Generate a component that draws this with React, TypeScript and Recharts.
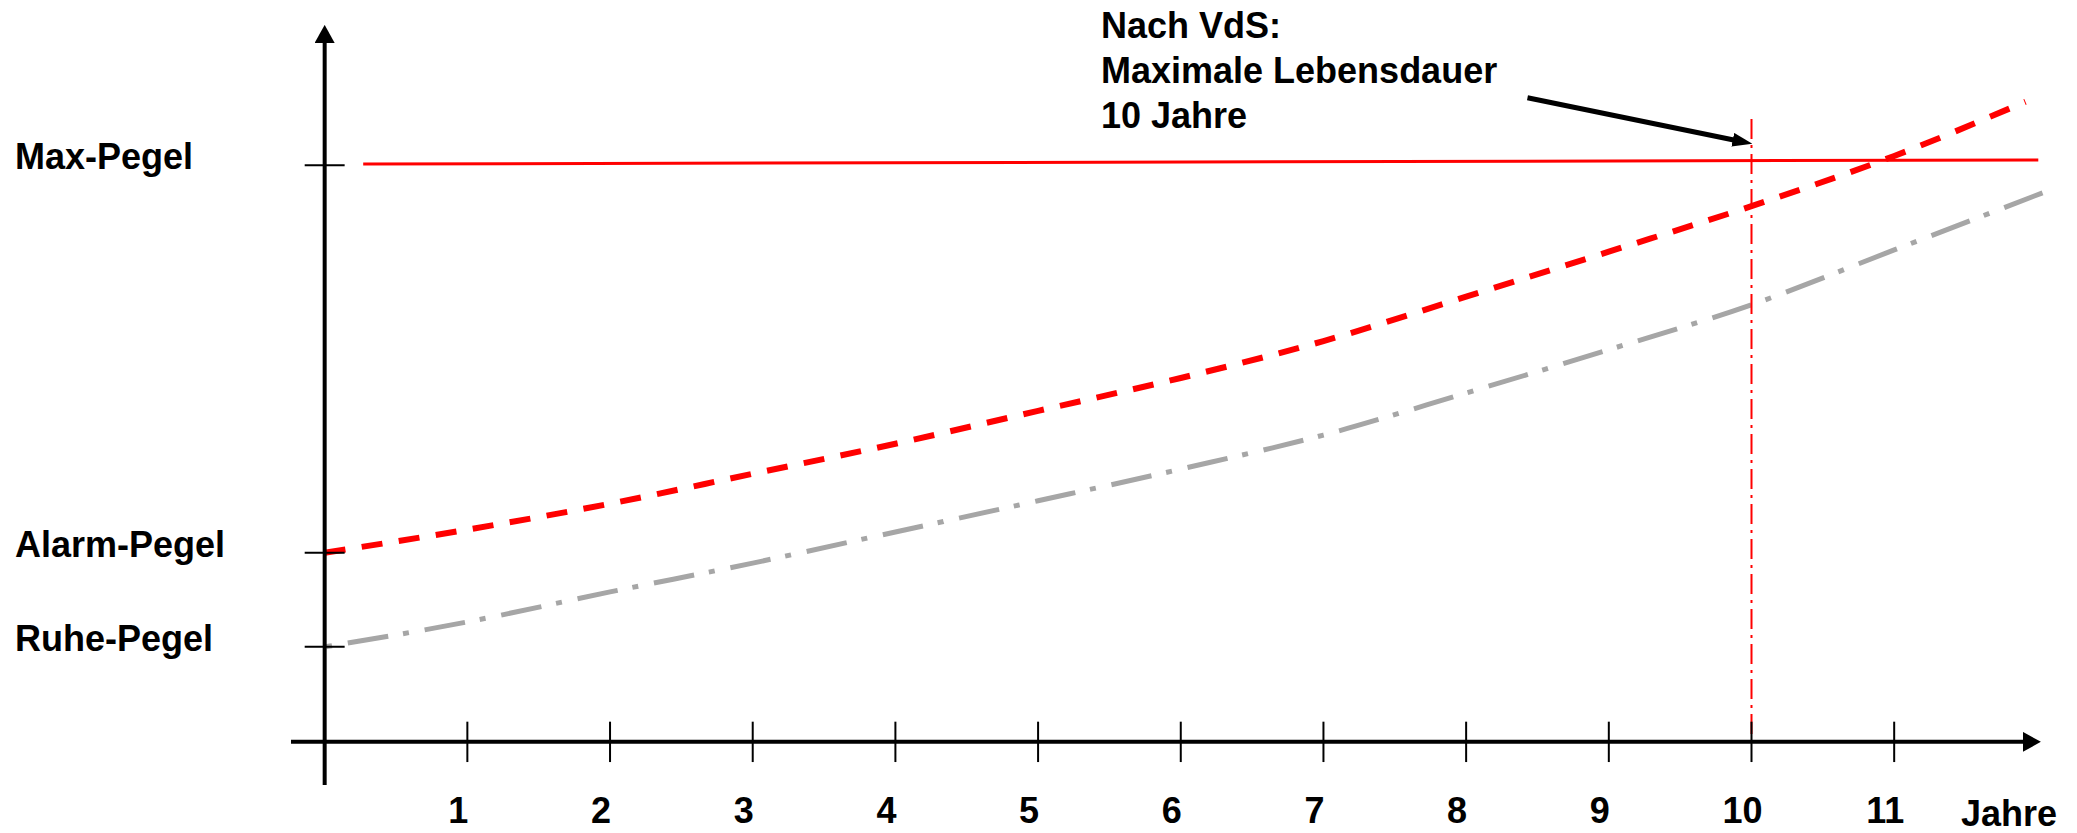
import React from "react";
import { LineChart, Line, XAxis, YAxis, ReferenceLine } from "recharts";

// years on the x axis (0 = origin), values in % of Max-Pegel
const tickYears = [1, 2, 3, 4, 5, 6, 7, 8, 9, 10, 11];

const alarmYears = [0, 1, 2, 3, 4, 5, 6, 7, 8, 9, 10, 11, 11.92];
const alarmValues = [32.8, 36.8, 41.3, 46.5, 51.7, 57.4, 63.1, 69.5, 77.2, 85.0, 92.9, 101.6, 111.0];

const ruheYears = [0.01, 1, 2, 3, 4, 5, 6, 7, 8, 9, 10, 11, 12.04];
const ruheValues = [16.5, 20.8, 26.0, 31.0, 36.4, 41.8, 47.3, 53.2, 60.5, 68.0, 75.8, 85.3, 95.2];

const maxYears = [0.27, 12.01];
const maxValues = [100.2, 100.9];

const levelNames = ["Ruhe-Pegel", "Alarm-Pegel", "Max-Pegel"];
const levelValues = [16.5, 32.8, 100];

const lifetimeYear = 10;
const lifetimeTop = 108;

const noteLines = ["Nach VdS:", "Maximale Lebensdauer", "10 Jahre"];
const noteArrowX = [8.43, 9.91];
const noteArrowY = [111.7, 104.2];

const axisXRange = [-0.236, 11.93];
const axisYRange = [-7.46, 121.9];

const zip = (xs: number[], ys: number[]) => xs.map((x, i) => ({ x, y: ys[i] }));

const alarmData = zip(alarmYears, alarmValues);
const ruheData = zip(ruheYears, ruheValues);
const maxData = zip(maxYears, maxValues);
const xAxisData = zip(axisXRange, [0, 0]);
const yAxisData = zip([0, 0], axisYRange);
const noteArrowData = zip(noteArrowX, noteArrowY);

const FONT = "'Liberation Sans', Arial, Helvetica, sans-serif";
const textStyle = { fontFamily: FONT, fontWeight: 700, fontSize: 36 };

const XTick = (props: any) => {
  const { x, payload } = props;
  return (
    <text x={x - 9} y={823} textAnchor="middle" fill="#000" style={textStyle}>
      {payload.value}
    </text>
  );
};

const YTick = (props: any) => {
  const { y, payload } = props;
  const idx = levelValues.indexOf(payload.value);
  return (
    <text x={15} y={y + 4} textAnchor="start" fill="#000" style={textStyle}>
      {levelNames[idx]}
    </text>
  );
};

export default function App() {
  return (
    <div style={{ position: "absolute", left: 0, top: 0, background: "#fff" }}>
      <LineChart
        width={2077}
        height={833}
        margin={{ top: 21, right: 33, bottom: 0, left: 0 }}
      >
        <defs>
          <marker
            id="axisHead"
            viewBox="0 0 18 20"
            markerWidth={18}
            markerHeight={20}
            refX={4}
            refY={10}
            orient="auto"
            markerUnits="userSpaceOnUse"
          >
            <path d="M0,0 L18,10 L0,20 z" fill="#000" />
          </marker>
          <marker
            id="noteHead"
            viewBox="0 0 20 14"
            markerWidth={20}
            markerHeight={14}
            refX={6}
            refY={7}
            orient="auto"
            markerUnits="userSpaceOnUse"
          >
            <path d="M0,0 L20,7 L0,14 z" fill="#000" />
          </marker>
        </defs>
        <XAxis
          dataKey="x"
          type="number"
          domain={[-0.25, 12.05]}
          allowDataOverflow
          ticks={tickYears}
          interval={0}
          height={45}
          axisLine={false}
          tickLine={false}
          tick={<XTick />}
        />
        <YAxis
          type="number"
          domain={[-8, 125]}
          allowDataOverflow
          ticks={levelValues}
          interval={0}
          width={289}
          axisLine={false}
          tickLine={false}
          tick={<YTick />}
        />

        <Line
          data={maxData}
          dataKey="y"
          stroke="#ff0000"
          strokeWidth={3}
          dot={false}
          activeDot={false}
          isAnimationActive={false}
        />
        <Line
          data={alarmData}
          dataKey="y"
          type="monotone"
          stroke="#ff0000"
          strokeWidth={6}
          strokeDasharray="21 16.5"
          dot={false}
          activeDot={false}
          isAnimationActive={false}
        />
        <Line
          data={ruheData}
          dataKey="y"
          type="monotone"
          stroke="#a6a6a6"
          strokeWidth={5}
          strokeDasharray="6 16 41 15"
          dot={false}
          activeDot={false}
          isAnimationActive={false}
        />

        <ReferenceLine
          segment={[
            { x: lifetimeYear, y: lifetimeTop },
            { x: lifetimeYear, y: 0 },
          ]}
          stroke="#ff0000"
          strokeWidth={2}
          strokeDasharray="20 6 3 6"
        />

        <Line
          data={xAxisData}
          dataKey="y"
          stroke="#000"
          strokeWidth={4}
          dot={false}
          activeDot={false}
          markerEnd="url(#axisHead)"
          isAnimationActive={false}
        />
        <Line
          data={yAxisData}
          dataKey="y"
          stroke="#000"
          strokeWidth={4}
          dot={false}
          activeDot={false}
          markerEnd="url(#axisHead)"
          isAnimationActive={false}
        />

        {tickYears.map((yr) => (
          <ReferenceLine
            key={`xt-${yr}`}
            segment={[
              { x: yr, y: -3.5 },
              { x: yr, y: 3.5 },
            ]}
            stroke="#000"
            strokeWidth={2}
          />
        ))}
        {levelValues.map((v) => (
          <ReferenceLine
            key={`yt-${v}`}
            segment={[
              { x: -0.14, y: v },
              { x: 0.14, y: v },
            ]}
            stroke="#000"
            strokeWidth={2}
          />
        ))}

        <Line
          data={noteArrowData}
          dataKey="y"
          stroke="#000"
          strokeWidth={5}
          dot={false}
          activeDot={false}
          markerEnd="url(#noteHead)"
          isAnimationActive={false}
        />

        {noteLines.map((t, i) => (
          <text key={t} x={1101} y={38 + i * 45} fill="#000" style={textStyle}>
            {t}
          </text>
        ))}
        <text x={1961} y={826} fill="#000" style={textStyle}>
          Jahre
        </text>
      </LineChart>
    </div>
  );
}
